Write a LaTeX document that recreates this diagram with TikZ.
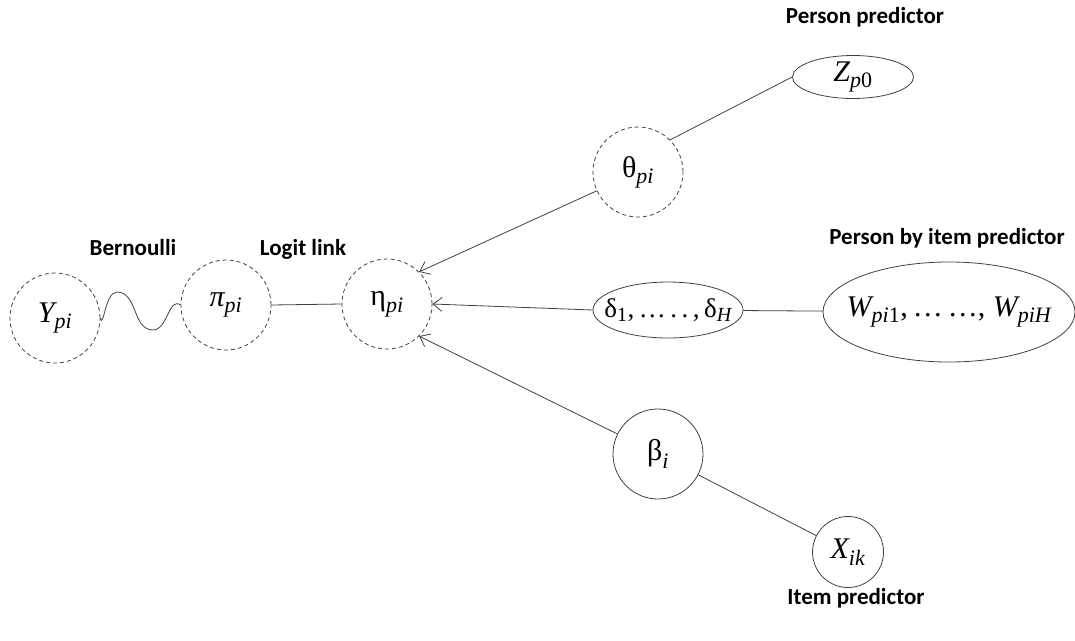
\documentclass[tikz,border=0pt]{standalone}
\usepackage{amsmath}
\usepackage{fontspec}
\setmainfont{Carlito}
\newfontfamily\serif{Liberation Serif}
\usetikzlibrary{arrows.meta,shapes.geometric}
\DeclareMathSizes{30}{30}{22}{16}
\DeclareMathSizes{27}{27}{20}{14}

\newcommand{\iv}[1]{\text{\serif\itshape #1}}
\newcommand{\up}[1]{\text{\serif #1}}
\newcommand{\nowidth}[1]{\makebox[0pt]{#1}}

\begin{document}
\begin{tikzpicture}[x=1pt,y=-1pt,>={Straight Barb[length=9pt,width=14pt]},
    link/.style={draw=black!75,line width=0.8pt},
    latent/.style={circle,link,dash pattern=on 4pt off 3pt,minimum size=90pt,inner sep=0pt,
      font=\serif\fontsize{30}{32}\selectfont},
    observed/.style={latent,solid},
    obsellipse/.style={ellipse,link,solid,inner sep=0pt,font=\serif\fontsize{30}{32}\selectfont},
    caption/.style={anchor=base,font=\bfseries\fontsize{23}{26}\selectfont}]
  \useasboundingbox (0,0) rectangle (1075,640);

  % model chain
  \node[latent]   (ypi)   at (55,318)  {$\iv{Y}_{\iv{pi}}$};
  \node[latent]   (pipi)  at (226,305) {$\iv{π}_{\iv{pi}}$};
  \node[latent]   (eta)   at (387,304) {$\up{η}_{\iv{pi}}$};

  % predictors
  \node[latent]   (theta) at (638,172) {$\up{θ}_{\iv{pi}}$};
  \node[obsellipse,minimum width=121pt,minimum height=40pt] (zp) at (853,77)
    {\nowidth{$\iv{Z}_{\iv{p}\up{0}}$}};
  \node[obsellipse,minimum width=150pt,minimum height=56pt,
    font=\serif\fontsize{27}{29}\selectfont] (delta) at (668,310)
    {\nowidth{$\up{δ}_{\up{1}}$,\,…\,.\,.\,,\,$\up{δ}_{\iv{H}}$}};
  \node[obsellipse,minimum width=252pt,minimum height=100pt] (wpi) at (949,312)
    {\nowidth{$\iv{W}_{\iv{pi}\up{1}}$,\,…\,…,\ $\iv{W}_{\iv{piH}}$}};
  \node[observed] (beta)  at (658,454) {$\up{β}_{\iv{i}}$};
  \node[observed,minimum size=71pt] (xik) at (848,552) {$\iv{X}_{\iv{ik}}$};

  % captions
  \node[caption] (bern)  at (133,255) {Bernoulli};
  \node[caption] (logit) at (303,255) {Logit link};
  \node[caption] (pp)    at (865,23)  {Person predictor};
  \node[caption] (pip)   at (947,244) {Person by item predictor};
  \node[caption] (ip)    at (856,604) {Item predictor};

  % wave between Y and pi
  \coordinate (crest)  at (117,292);
  \coordinate (trough) at (153,330);
  \draw[link] (ypi.east) to[out=-75,in=180] (crest) to[out=0,in=180] (trough)
    to[out=0,in=145] (pipi.west);

  \draw[link] (pipi.east) -- (eta.west);
  \draw[link,->] (theta) -- (eta.north east);
  \draw[link,->] (delta.west) -- (eta.east);
  \draw[link,->] (beta) -- (eta.south east);
  \draw[link] (theta.north east) -- (zp.west);
  \draw[link] (delta) -- (wpi);
  \draw[link] (beta) -- (xik);
\end{tikzpicture}
\end{document}
